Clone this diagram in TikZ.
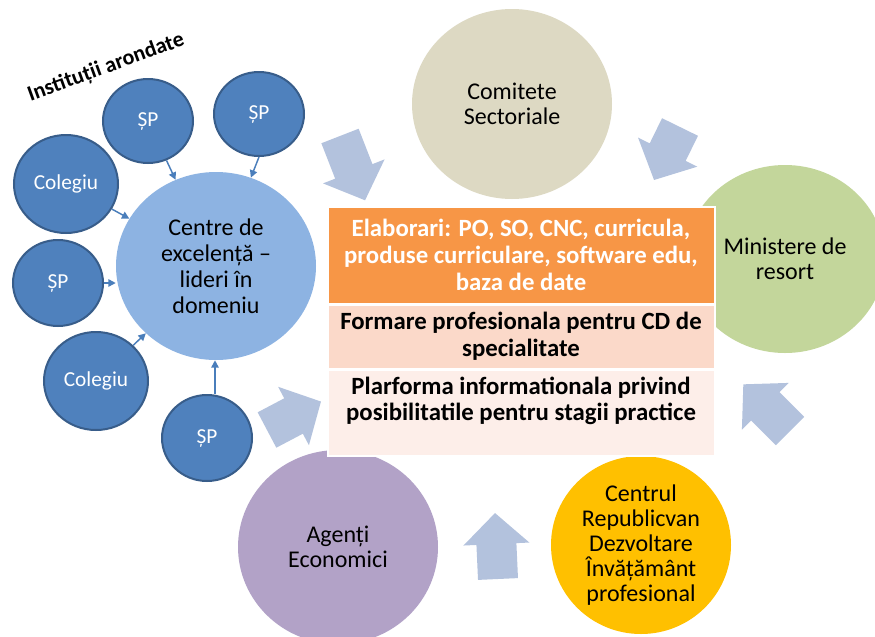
\documentclass[tikz,border=0pt]{standalone}
\usepackage{fontspec}
\setmainfont{Carlito}
\usetikzlibrary{shapes.geometric,arrows.meta}
\definecolor{spblue}{HTML}{4F81BD}
\definecolor{spborder}{HTML}{385D8A}
\definecolor{cecol}{HTML}{8DB3E2}
\definecolor{comcol}{HTML}{DDD9C3}
\definecolor{mincol}{HTML}{C3D69B}
\definecolor{agcol}{HTML}{B2A2C7}
\definecolor{crcol}{HTML}{FFC000}
\definecolor{orcol}{HTML}{F79646}
\definecolor{pecol}{HTML}{FBD9C9}
\definecolor{ltcol}{HTML}{FDEEE9}
\definecolor{barcol}{HTML}{B3C2DD}
\definecolor{conncol}{HTML}{4A7EBB}
\tikzset{
  bub/.style 2 args={ellipse, minimum width=#1*1.5pt, minimum height=#2*1.5pt, inner sep=0pt, align=center},
  bigtxt/.style={font=\fontsize{18}{18.75}\selectfont, text=black},
  spnode/.style={fill=spblue, draw=spborder, line width=1.5pt, text=white, font=\fontsize{16}{19}\selectfont},
  conn/.style={draw=conncol, line width=1.1pt, -{Triangle[length=5.5pt,width=5.5pt]}},
  panel/.style={rectangle, draw=white, line width=1.5pt, minimum width=387*0.75pt, inner sep=0pt, align=center, font=\bfseries\fontsize{18.6}{20}\selectfont},
  barfill/.style={fill=barcol}
}
\newcommand{\blockarr}[4]{%
  \begin{scope}[shift={(#1,#2)},rotate=#3]
    \fill[barfill] (0,-20) -- ({#4-31},-20) -- ({#4-31},-33) -- (#4,0) -- ({#4-31},33) -- ({#4-31},20) -- (0,20) -- cycle;
  \end{scope}}
\begin{document}
\begin{tikzpicture}[x=0.75pt,y=-0.75pt]
\fill[white] (0,0) rectangle (875,636);
\useasboundingbox (0,0) rectangle (875,636);

% big circles
\node[bub={100}{95}, fill=comcol, bigtxt] (com) at (512,104) {Comitete\\Sectoriale};
\node[bub={100}{94}, fill=mincol, bigtxt] (min) at (785,259) {Ministere de\\resort};
\node[bub={100}{97}, fill=agcol, bigtxt] (ag) at (338,547) {Agenți\\Economici};
\node[bub={90}{89}, fill=crcol, bigtxt] (cr) at (641,545) {Centrul\\Republicvan\\Dezvoltare\\Învățământ\\profesional};
\node[bub={100}{94}, fill=cecol, font=\fontsize{18}{19.5}\selectfont] (ce) at (216,266) {Centre de\\excelență –\\lideri în\\domeniu};

% small circles
\node[bub={45}{42}, spnode] (sp1) at (148,121) {ȘP};
\node[bub={45}{42}, spnode] (sp2) at (259,114) {ȘP};
\node[bub={52}{49}, spnode] (col1) at (66,184) {Colegiu};
\node[bub={45}{43}, spnode] (sp3) at (58,283) {ȘP};
\node[bub={52}{49}, spnode] (col2) at (96,381) {Colegiu};
\node[bub={45}{43}, spnode] (sp4) at (207,438) {ȘP};

% connectors
\draw[conn] (sp1) -- (ce);
\draw[conn] (sp2.south) -- (ce);
\draw[conn] (col1) -- (ce);
\draw[conn] (sp3.east) -- (ce.west |- sp3.east);
\draw[conn] (col2) -- (ce);
\draw[conn] (sp4.north -| 215,0) -- (ce.south -| 215,0);

% block arrows
\blockarr{340}{136}{-68.7}{69}
\blockarr{680}{127}{-116.1}{59}
\blockarr{790}{431}{135}{66}
\blockarr{498}{579}{92.6}{66}
\blockarr{267}{430}{27.8}{61}

% panels
\node[panel, fill=orcol, text=white, minimum height=97*0.75pt] (r1) at (521,255) {Elaborari: PO, SO, CNC, curricula,\\produse curriculare, software edu,\\baza de date};
\node[panel, fill=pecol, text=black, minimum height=64*0.75pt] (r2) at (521,336.5) {Formare profesionala pentru CD de\\specialitate};
\node[panel, fill=ltcol, minimum height=86*0.75pt] (r3) at (521,412.5) {};
\node[align=center, font=\bfseries\fontsize{18.6}{20}\selectfont, inner sep=0pt] (r3t) at (521,401) {Plarforma informationala privind\\posibilitatile pentru stagii practice};

% title
\node[rotate=20, anchor=base, font=\bfseries\fontsize{16.5}{19}\selectfont, inner sep=0pt] (title) at (108,73) {Instituții arondate};
\end{tikzpicture}
\end{document}
